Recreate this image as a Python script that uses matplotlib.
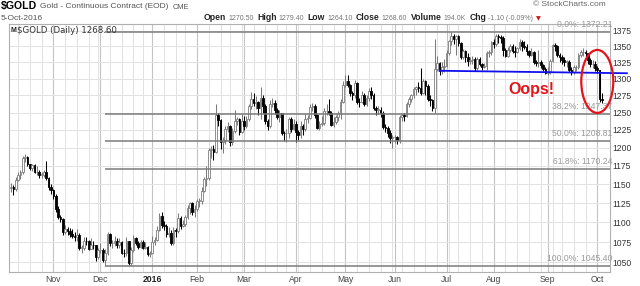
import numpy as np
import pandas as pd
import matplotlib
matplotlib.use("Agg")
import matplotlib.pyplot as plt
from matplotlib.patches import Ellipse
from matplotlib.ticker import NullLocator
from matplotlib.transforms import ScaledTranslation, blended_transform_factory

plt.rcParams['font.family'] = ['Liberation Sans', 'DejaVu Sans']

# trading days (COMEX holidays removed)
holidays = ['2015-11-26', '2015-12-25', '2016-01-01', '2016-01-18', '2016-02-15',
            '2016-03-25', '2016-05-30', '2016-07-04', '2016-09-05']
dates = pd.bdate_range('2015-10-07', '2016-10-05', freq='C', holidays=holidays)

# daily OHLC, one line per month (Oct-2015 .. Oct-2016)
opens = [
    1145, 1146, 1143, 1156, 1163, 1166, 1186, 1187, 1177, 1172, 1176, 1166, 1167, 1163, 1163, 1166, 1158, 1146,
    1142, 1134, 1117, 1107, 1104, 1088, 1092, 1089, 1085, 1083, 1081, 1084, 1068, 1068, 1077, 1076, 1067, 1072, 1071, 1057,
    1065, 1065, 1053, 1061, 1085, 1074, 1074, 1076, 1071, 1075, 1062, 1061, 1076, 1049, 1065, 1080, 1074, 1069, 1075, 1068, 1069, 1060,
    1061, 1075, 1078, 1091, 1108, 1097, 1096, 1085, 1087, 1074, 1090, 1089, 1106, 1096, 1098, 1107, 1119, 1125, 1114,
    1117, 1128, 1128, 1141, 1157, 1158, 1197, 1198, 1194, 1247, 1239, 1208, 1210, 1226, 1230, 1208, 1224, 1238, 1240, 1222,
    1238, 1231, 1241, 1259, 1270, 1264, 1265, 1256, 1272, 1259, 1238, 1231, 1262, 1264, 1254, 1244, 1249, 1221, 1220, 1221, 1240, 1226,
    1234, 1222, 1218, 1230, 1226, 1240, 1242, 1258, 1260, 1246, 1227, 1234, 1235, 1252, 1252, 1250, 1232, 1236, 1243, 1249, 1266,
    1290, 1296, 1291, 1278, 1275, 1294, 1266, 1265, 1276, 1262, 1272, 1281, 1275, 1256, 1254, 1254, 1250, 1229, 1227, 1221, 1213,
    1215, 1215, 1211, 1243, 1247, 1245, 1262, 1270, 1275, 1284, 1287, 1286, 1279, 1297, 1289, 1270, 1268, 1256, 1315, 1324, 1312, 1318,
    1320, 1339, 1358, 1366, 1362, 1366, 1356, 1334, 1343, 1333, 1327, 1329, 1331, 1317, 1331, 1323, 1318, 1320, 1340, 1341,
    1357, 1353, 1367, 1364, 1363, 1344, 1335, 1345, 1350, 1343, 1341, 1347, 1357, 1350, 1349, 1342, 1337, 1341, 1325, 1324, 1326, 1321, 1315,
    1309, 1312, 1327, 1352, 1350, 1336, 1334, 1328, 1326, 1326, 1313, 1310, 1318, 1318, 1336, 1341, 1341, 1339, 1328, 1322, 1322,
    1317, 1313, 1270.5,
]
highs = [
    1151, 1149, 1160, 1166, 1169, 1189, 1191, 1188, 1178, 1178, 1178, 1174, 1169, 1167, 1169, 1182, 1160, 1150,
    1143, 1137, 1121, 1110, 1106, 1097, 1094, 1093, 1092, 1088, 1092, 1087, 1072, 1082, 1082, 1078, 1080, 1076, 1072, 1068,
    1074, 1068, 1066, 1088, 1086, 1078, 1083, 1080, 1080, 1076, 1067, 1081, 1077, 1069, 1084, 1082, 1077, 1078, 1078, 1075, 1070, 1064,
    1083, 1081, 1096, 1112, 1113, 1102, 1098, 1094, 1091, 1094, 1093, 1112, 1108, 1103, 1109, 1122, 1127, 1127, 1122,
    1131, 1132, 1146, 1160, 1174, 1200, 1202, 1203, 1263, 1250, 1240, 1215, 1231, 1236, 1232, 1228, 1253, 1244, 1242, 1248,
    1245, 1245, 1263, 1280, 1278, 1274, 1267, 1287, 1275, 1263, 1240, 1268, 1272, 1268, 1256, 1253, 1250, 1224, 1226, 1243, 1243, 1240,
    1237, 1225, 1237, 1233, 1248, 1247, 1262, 1264, 1262, 1248, 1237, 1245, 1256, 1262, 1270, 1252, 1243, 1246, 1252, 1270, 1297,
    1305, 1306, 1292, 1281, 1298, 1295, 1271, 1282, 1278, 1276, 1286, 1287, 1278, 1260, 1259, 1258, 1252, 1233, 1230, 1225, 1218,
    1218, 1217, 1247, 1250, 1250, 1265, 1273, 1277, 1287, 1289, 1295, 1316, 1300, 1298, 1292, 1276, 1270, 1362, 1335, 1326, 1325, 1330,
    1345, 1360, 1372.2, 1369, 1368, 1368, 1357, 1346, 1345, 1340, 1334, 1335, 1333, 1334, 1333, 1324, 1324, 1342, 1345, 1359,
    1362, 1370, 1369, 1368, 1367, 1347, 1349, 1354, 1353, 1350, 1349, 1361, 1360, 1358, 1353, 1345, 1347, 1342, 1329, 1344, 1329, 1323, 1318,
    1318, 1331, 1354, 1355, 1352, 1340, 1336, 1333, 1329, 1328, 1318, 1321, 1321, 1340, 1345, 1347, 1345, 1340, 1332, 1328, 1327,
    1319, 1314, 1279.4,
]
lows = [
    1140, 1136, 1141, 1154, 1157, 1164, 1180, 1174, 1169, 1168, 1165, 1163, 1159, 1159, 1160, 1156, 1142, 1137,
    1131, 1113, 1104, 1100, 1084, 1085, 1084, 1081, 1080, 1076, 1077, 1065, 1062, 1065, 1071, 1065, 1066, 1067, 1052, 1054,
    1061, 1050, 1045.4, 1059, 1070, 1068, 1070, 1068, 1068, 1060, 1057, 1058, 1047, 1046, 1063, 1072, 1066, 1068, 1066, 1066, 1058, 1057,
    1061, 1072, 1076, 1089, 1093, 1091, 1081, 1082, 1071, 1072, 1082, 1086, 1092, 1094, 1096, 1105, 1111, 1110, 1107,
    1115, 1120, 1124, 1139, 1147, 1156, 1185, 1183, 1192, 1230, 1198, 1192, 1205, 1222, 1202, 1204, 1221, 1232, 1218, 1220,
    1225, 1228, 1238, 1255, 1260, 1255, 1246, 1240, 1250, 1234, 1225, 1227, 1258, 1248, 1240, 1236, 1218, 1209, 1208, 1213, 1222, 1225,
    1208, 1211, 1214, 1218, 1224, 1235, 1240, 1252, 1242, 1226, 1225, 1231, 1232, 1247, 1246, 1230, 1229, 1233, 1238, 1240, 1264,
    1288, 1288, 1274, 1268, 1272, 1262, 1258, 1264, 1260, 1260, 1267, 1270, 1254, 1246, 1248, 1244, 1226, 1222, 1215, 1206, 1200,
    1206, 1205, 1206, 1238, 1238, 1243, 1258, 1265, 1272, 1276, 1280, 1276, 1277, 1276, 1267, 1260, 1252, 1250, 1312, 1306, 1307, 1310,
    1318, 1336, 1352, 1353, 1337, 1351, 1331, 1330, 1325, 1320, 1323, 1323, 1312, 1314, 1320, 1313, 1316, 1314, 1333, 1337,
    1348, 1350, 1356, 1356, 1335, 1333, 1334, 1341, 1339, 1334, 1339, 1345, 1343, 1346, 1337, 1333, 1335, 1323, 1320, 1318, 1317, 1312, 1307,
    1305, 1308, 1325, 1343, 1333, 1326, 1322, 1320, 1318, 1311, 1306, 1307, 1312, 1315, 1334, 1335, 1333, 1323, 1318, 1316, 1312,
    1309, 1266, 1264.1,
]
closes = [
    1146, 1143, 1156, 1163, 1166, 1186, 1187, 1177, 1172, 1176, 1166, 1167, 1163, 1163, 1166, 1158, 1146, 1142,
    1134, 1117, 1107, 1104, 1088, 1092, 1089, 1085, 1083, 1081, 1084, 1068, 1068, 1077, 1076, 1067, 1072, 1071, 1057, 1065,
    1065, 1053, 1061, 1085, 1074, 1074, 1076, 1071, 1075, 1062, 1061, 1076, 1049, 1065, 1080, 1074, 1069, 1075, 1068, 1069, 1060, 1061,
    1075, 1078, 1091, 1108, 1097, 1096, 1085, 1087, 1074, 1090, 1089, 1106, 1096, 1098, 1107, 1119, 1125, 1114, 1117,
    1128, 1128, 1141, 1157, 1158, 1197, 1198, 1194, 1247, 1239, 1208, 1210, 1226, 1230, 1208, 1224, 1238, 1240, 1222, 1238,
    1231, 1241, 1259, 1270, 1264, 1265, 1256, 1272, 1259, 1238, 1231, 1262, 1264, 1254, 1244, 1249, 1221, 1220, 1221, 1240, 1226, 1234,
    1222, 1218, 1230, 1226, 1240, 1242, 1258, 1260, 1246, 1227, 1234, 1235, 1252, 1252, 1250, 1232, 1236, 1243, 1249, 1266, 1290,
    1296, 1291, 1278, 1275, 1294, 1266, 1265, 1276, 1262, 1272, 1281, 1275, 1256, 1254, 1254, 1250, 1229, 1227, 1221, 1213, 1215,
    1215, 1211, 1243, 1247, 1245, 1262, 1270, 1275, 1284, 1287, 1286, 1279, 1297, 1289, 1270, 1268, 1256, 1315, 1324, 1312, 1318, 1320,
    1339, 1358, 1366, 1362, 1366, 1356, 1334, 1343, 1333, 1327, 1329, 1331, 1317, 1331, 1323, 1318, 1320, 1340, 1341, 1357,
    1353, 1367, 1364, 1363, 1344, 1335, 1345, 1350, 1343, 1341, 1347, 1357, 1350, 1349, 1342, 1337, 1341, 1325, 1324, 1326, 1321, 1315, 1309,
    1312, 1327, 1352, 1350, 1336, 1334, 1328, 1326, 1326, 1313, 1310, 1318, 1318, 1336, 1341, 1341, 1339, 1328, 1322, 1322, 1317,
    1313, 1269.7, 1268.6,
]

# Fibonacci retracement levels
fib_labels = ['0.0%: 1372.21', '38.2%: 1247.37', '50.0%: 1208.81', '61.8%: 1170.24', '100.0%: 1045.40']
fib_levels = [1372.21, 1247.37, 1208.81, 1170.24, 1045.40]
fib_start = '2015-12-03'

# hand-drawn annotations
trend_x = ['2016-06-28', 261.6]
trend_y = [1312.2, 1308.4]
oops_at = ['2016-08-23', 1284]
circle_at = ['2016-10-03', 1296]

y_ticks = [1050, 1075, 1100, 1125, 1150, 1175, 1200, 1225, 1250, 1275, 1300, 1325, 1350, 1375]
month_labels = ['Nov', 'Dec', '2016', 'Feb', 'Mar', 'Apr', 'May', 'Jun', 'Jul', 'Aug', 'Sep', 'Oct']

# header quote line
quote_keys = ['Open', 'High', 'Low', 'Close', 'Volume', 'Chg']
quote_vals = ['1270.50', '1279.40', '1264.10', '1268.60', '194.0K', '-1.10 (-0.09%)']

o = np.array(opens, float)
h = np.array(highs, float)
l = np.array(lows, float)
c = np.array(closes, float)
x = np.arange(len(dates))
def idx(d):
    return dates.get_loc(pd.Timestamp(d))

fig = plt.figure(figsize=(6.4, 2.86), dpi=100)
ax = fig.add_axes([9 / 640, 14 / 286, 601 / 640, 248 / 286])
ax.set_yscale('log')
ax.set_ylim(1038.4, 1385.5)
ax.set_xlim(-0.85, 254.4)

# grid: weekly light lines, month lines a bit darker
week_start = [i for i in range(1, len(dates)) if dates[i].weekday() < dates[i - 1].weekday()]
month_start = [i for i in range(1, len(dates)) if dates[i].month != dates[i - 1].month]
for i in week_start:
    ax.axvline(i, color='#e2e2e2', lw=0.7, zorder=0)
for i in month_start:
    ax.axvline(i, color='#c4c4c4', lw=0.8, zorder=0)
for v in y_ticks:
    ax.axhline(v, color='#e2e2e2', lw=0.7, zorder=0)

# candles
up = c >= o
wick_col = np.where(up, '#7c7c7c', 'black')
face_col = np.where(up, 'white', 'black')
ax.vlines(x, l, h, colors=wick_col, lw=0.75, zorder=2)
ax.bar(x, np.maximum(np.abs(c - o), 0.5), bottom=np.minimum(o, c), width=0.7,
       color=face_col, edgecolor=wick_col, lw=0.6, zorder=3)

# fibonacci lines
trans = blended_transform_factory(ax.transAxes, ax.transData)
x0 = idx(fib_start)
for lab, lev in zip(fib_labels, fib_levels):
    ax.plot([x0, ax.get_xlim()[1]], [lev, lev], color='#7a7a7a', lw=1.1, zorder=4, solid_capstyle='butt')
    ax.annotate(lab, xy=(1, lev), xycoords=trans, xytext=(1.5, 3.6), textcoords='offset points',
                ha='right', va='baseline', fontsize=6.2, color='#9a9a9a', zorder=5)

# axes styling
ax.yaxis.tick_right()
ax.set_yticks(y_ticks, [str(v) for v in y_ticks])
ax.yaxis.set_minor_locator(NullLocator())
ax.tick_params(axis='y', length=0, pad=2, labelsize=6.2, labelcolor='#333333')
ax.set_xticks(month_start, month_labels)
ax.tick_params(axis='x', length=0, pad=2.5, labelsize=6.2, labelcolor='#444444')
for t in ax.get_xticklabels():
    if t.get_text() == '2016':
        t.set_fontweight('bold')
        t.set_color('#222222')
for s in ax.spines.values():
    s.set_color('#b0b0b0')
    s.set_linewidth(0.8)

# in-chart label
ax.text(0.002, 0.973, 'M', transform=ax.transAxes, fontsize=5, fontweight='bold', color='#222', va='center')
ax.text(0.0133, 0.973, '$GOLD (Daily) 1268.60', transform=ax.transAxes, family='DejaVu Sans',
        fontsize=6.2, color='#333333', va='center', zorder=6)

# annotations
ax.plot([idx(trend_x[0]), trend_x[1]], trend_y, color='#1010ee', lw=1.3, zorder=6, clip_on=False)
ax.text(idx(oops_at[0]), oops_at[1], 'Oops!', color='#e3141b', fontsize=11.5, fontweight='bold',
        ha='center', va='center', zorder=7)
ell = Ellipse((0, 0), 0.32, 0.63, fill=False, ec='#e3141b', lw=1.6, zorder=7, clip_on=False,
              transform=fig.dpi_scale_trans + ScaledTranslation(idx(circle_at[0]), circle_at[1], ax.transData))
ax.add_artist(ell)

# header
def ftext(px, py, s, **kw):
    kw.setdefault('va', 'center')
    return fig.text(px / 640, 1 - py / 286, s, **kw)

ftext(0.5, 6.5, '$GOLD', fontsize=7.6, fontweight='bold', color='black')
ftext(40, 7, 'Gold - Continuous Contract (EOD)', fontsize=6, color='#555555')
ftext(173, 7.5, 'CME', fontsize=5.3, color='#555555')
ftext(1, 18, '5-Oct-2016', fontsize=6, color='#555555')
ftext(533, 5, '\u00a9 StockCharts.com', fontsize=6, color='#666666')

renderer = fig.canvas.get_renderer()
px = 204
for k, v in zip(quote_keys, quote_vals):
    t = ftext(px, 18, k, fontsize=6.2, fontweight='bold', color='#222222')
    px += t.get_window_extent(renderer).width + 2
    t = ftext(px, 18, v, fontsize=5.0, color='#777777')
    px += t.get_window_extent(renderer).width + 3.5
ftext(px - 1, 18.5, '\u25bc', fontsize=4.5, color='#d01010', family='DejaVu Sans')

fig.savefig('out.png', dpi=100, facecolor='white')
